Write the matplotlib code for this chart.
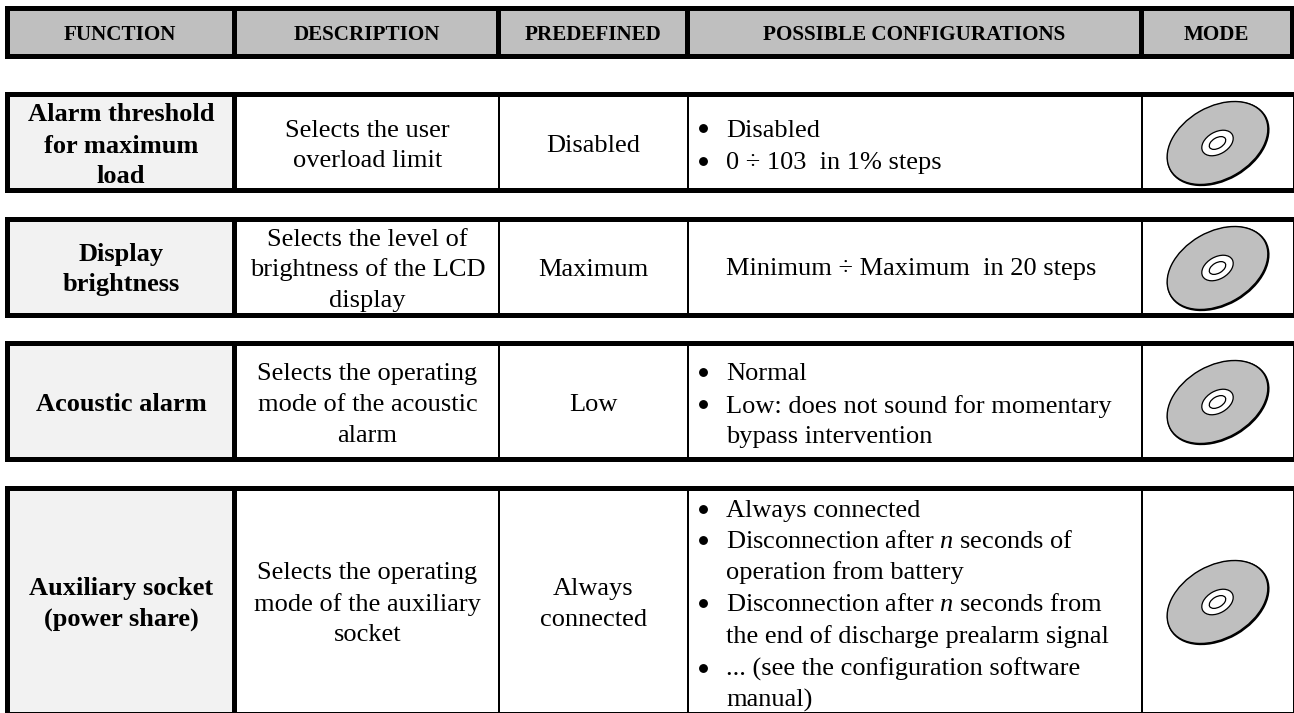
import matplotlib
matplotlib.use("Agg")
import matplotlib.pyplot as plt
from matplotlib.patches import Rectangle, Ellipse

plt.rcParams['font.family'] = ['Liberation Serif', 'DejaVu Serif']
plt.rcParams['mathtext.fontset'] = 'custom'
plt.rcParams['mathtext.rm'] = 'Liberation Serif'
plt.rcParams['mathtext.it'] = 'Liberation Serif:italic'

headers = ["FUNCTION", "DESCRIPTION", "PREDEFINED", "POSSIBLE CONFIGURATIONS", "MODE"]

functions = [
    ["Alarm threshold", "for maximum", "load"],
    ["Display", "brightness"],
    ["Acoustic alarm"],
    ["Auxiliary socket", "(power share)"],
]
descriptions = [
    ["Selects the user", "overload limit"],
    ["Selects the level of", "brightness of the LCD", "display"],
    ["Selects the operating", "mode of the acoustic", "alarm"],
    ["Selects the operating", "mode of the auxiliary", "socket"],
]
predefined = [
    ["Disabled"],
    ["Maximum"],
    ["Low"],
    ["Always", "connected"],
]
# (has bullet, text)
configs = [
    [(True, "Disabled"), (True, "0 ÷ 103  in 1% steps")],
    [(False, "Minimum ÷ Maximum  in 20 steps")],
    [(True, "Normal"), (True, "Low: does not sound for momentary"), (False, "bypass intervention")],
    [(True, "Always connected"),
     (True, "Disconnection after $n$ seconds of"),
     (False, "operation from battery"),
     (True, "Disconnection after $n$ seconds from"),
     (False, "the end of discharge prealarm signal"),
     (True, "... (see the configuration software"),
     (False, "manual)")],
]

# layout, in pixels of the page
func_base = [[120.6, 152.6, 182.6], [261, 291], [410.7], [595, 625.7]]
desc_base = [[136.7, 166.7], [245.7, 275.7, 306.7], [380, 410.7, 441.7], [579, 610.7, 641]]
pred_base = [[152], [275.7], [410.7], [595, 626]]
conf_base = [[136.7, 169], [275], [380, 412.7, 443], [517, 548, 579, 611, 643, 676, 707]]
row_tops = [92, 217, 341, 486]
row_bots = [193, 318, 462, 713]
row_bot_width = [5, 5, 5, 1]
head_div = [232, 496, 685, 1139]
head_cent = [120, 367, 593, 914, 1216]
GREY = "#bfbfbf"
LIGHT = "#f2f2f2"
FS = 19

fig = plt.figure(figsize=(12.94, 7.13), dpi=100)
ax = fig.add_axes([0, 0, 1, 1])
ax.set_xlim(0, 1294)
ax.set_ylim(713, 0)
ax.axis("off")


def box(x0, y0, x1, y1, color="black", z=1):
    ax.add_patch(Rectangle((x0, y0), x1 - x0, y1 - y0, fc=color, ec="none", lw=0, zorder=z))


# header band
box(5, 6, 1294, 59)
box(10, 11, 1290, 54, GREY, 2)
for x in head_div:
    box(x, 11, x + 5, 54, "black", 3)
for x, h in zip(head_cent, headers):
    ax.text(x, 40, h, fontsize=15.2, fontweight="bold", ha="center", va="baseline", zorder=5)

for i in range(4):
    top, bot = row_tops[i], row_bots[i]
    inner_bot = bot - row_bot_width[i]
    box(5, top, 1294, bot)
    box(10, top + 5, 232, inner_bot, LIGHT, 2)
    box(237, top + 5, 1292.5, inner_bot, "white", 2)
    for x in [498, 687, 1141.3]:
        box(x, top + 5, x + 2, inner_bot, "black", 3)

    for line, y in zip(functions[i], func_base[i]):
        ax.text(121, y, line, fontsize=FS, fontweight="bold", ha="center", va="baseline", zorder=5)
    for line, y in zip(descriptions[i], desc_base[i]):
        ax.text(367.5, y, line, fontsize=FS, ha="center", va="baseline", zorder=5)
    for line, y in zip(predefined[i], pred_base[i]):
        ax.text(593.5, y, line, fontsize=FS, ha="center", va="baseline", zorder=5)
    for (bullet, line), y in zip(configs[i], conf_base[i]):
        if bullet:
            ax.plot([703], [y - 8.5], "o", color="black", ms=6.4, mew=0, zorder=5)
        ax.text(726, y, line, fontsize=FS, ha="left", va="baseline", zorder=5)

    # CD icon
    cy = (top + 5 + inner_bot) / 2 + 0.5
    cx = 1217.5
    ax.add_patch(Ellipse((cx + 0.7, cy + 0.7), 110.5, 74.5, angle=-30, fc="black", ec="none", zorder=5))
    ax.add_patch(Ellipse((cx, cy), 108.5, 72.5, angle=-30, fc=GREY, ec="black", lw=1.0, zorder=6))
    ax.add_patch(Ellipse((cx, cy), 34, 22, angle=-30, fc="white", ec="black", lw=0.9, zorder=7))
    ax.add_patch(Ellipse((cx, cy), 18, 10.5, angle=-30, fc="white", ec="black", lw=0.9, zorder=8))

fig.savefig("out.png", dpi=100)
